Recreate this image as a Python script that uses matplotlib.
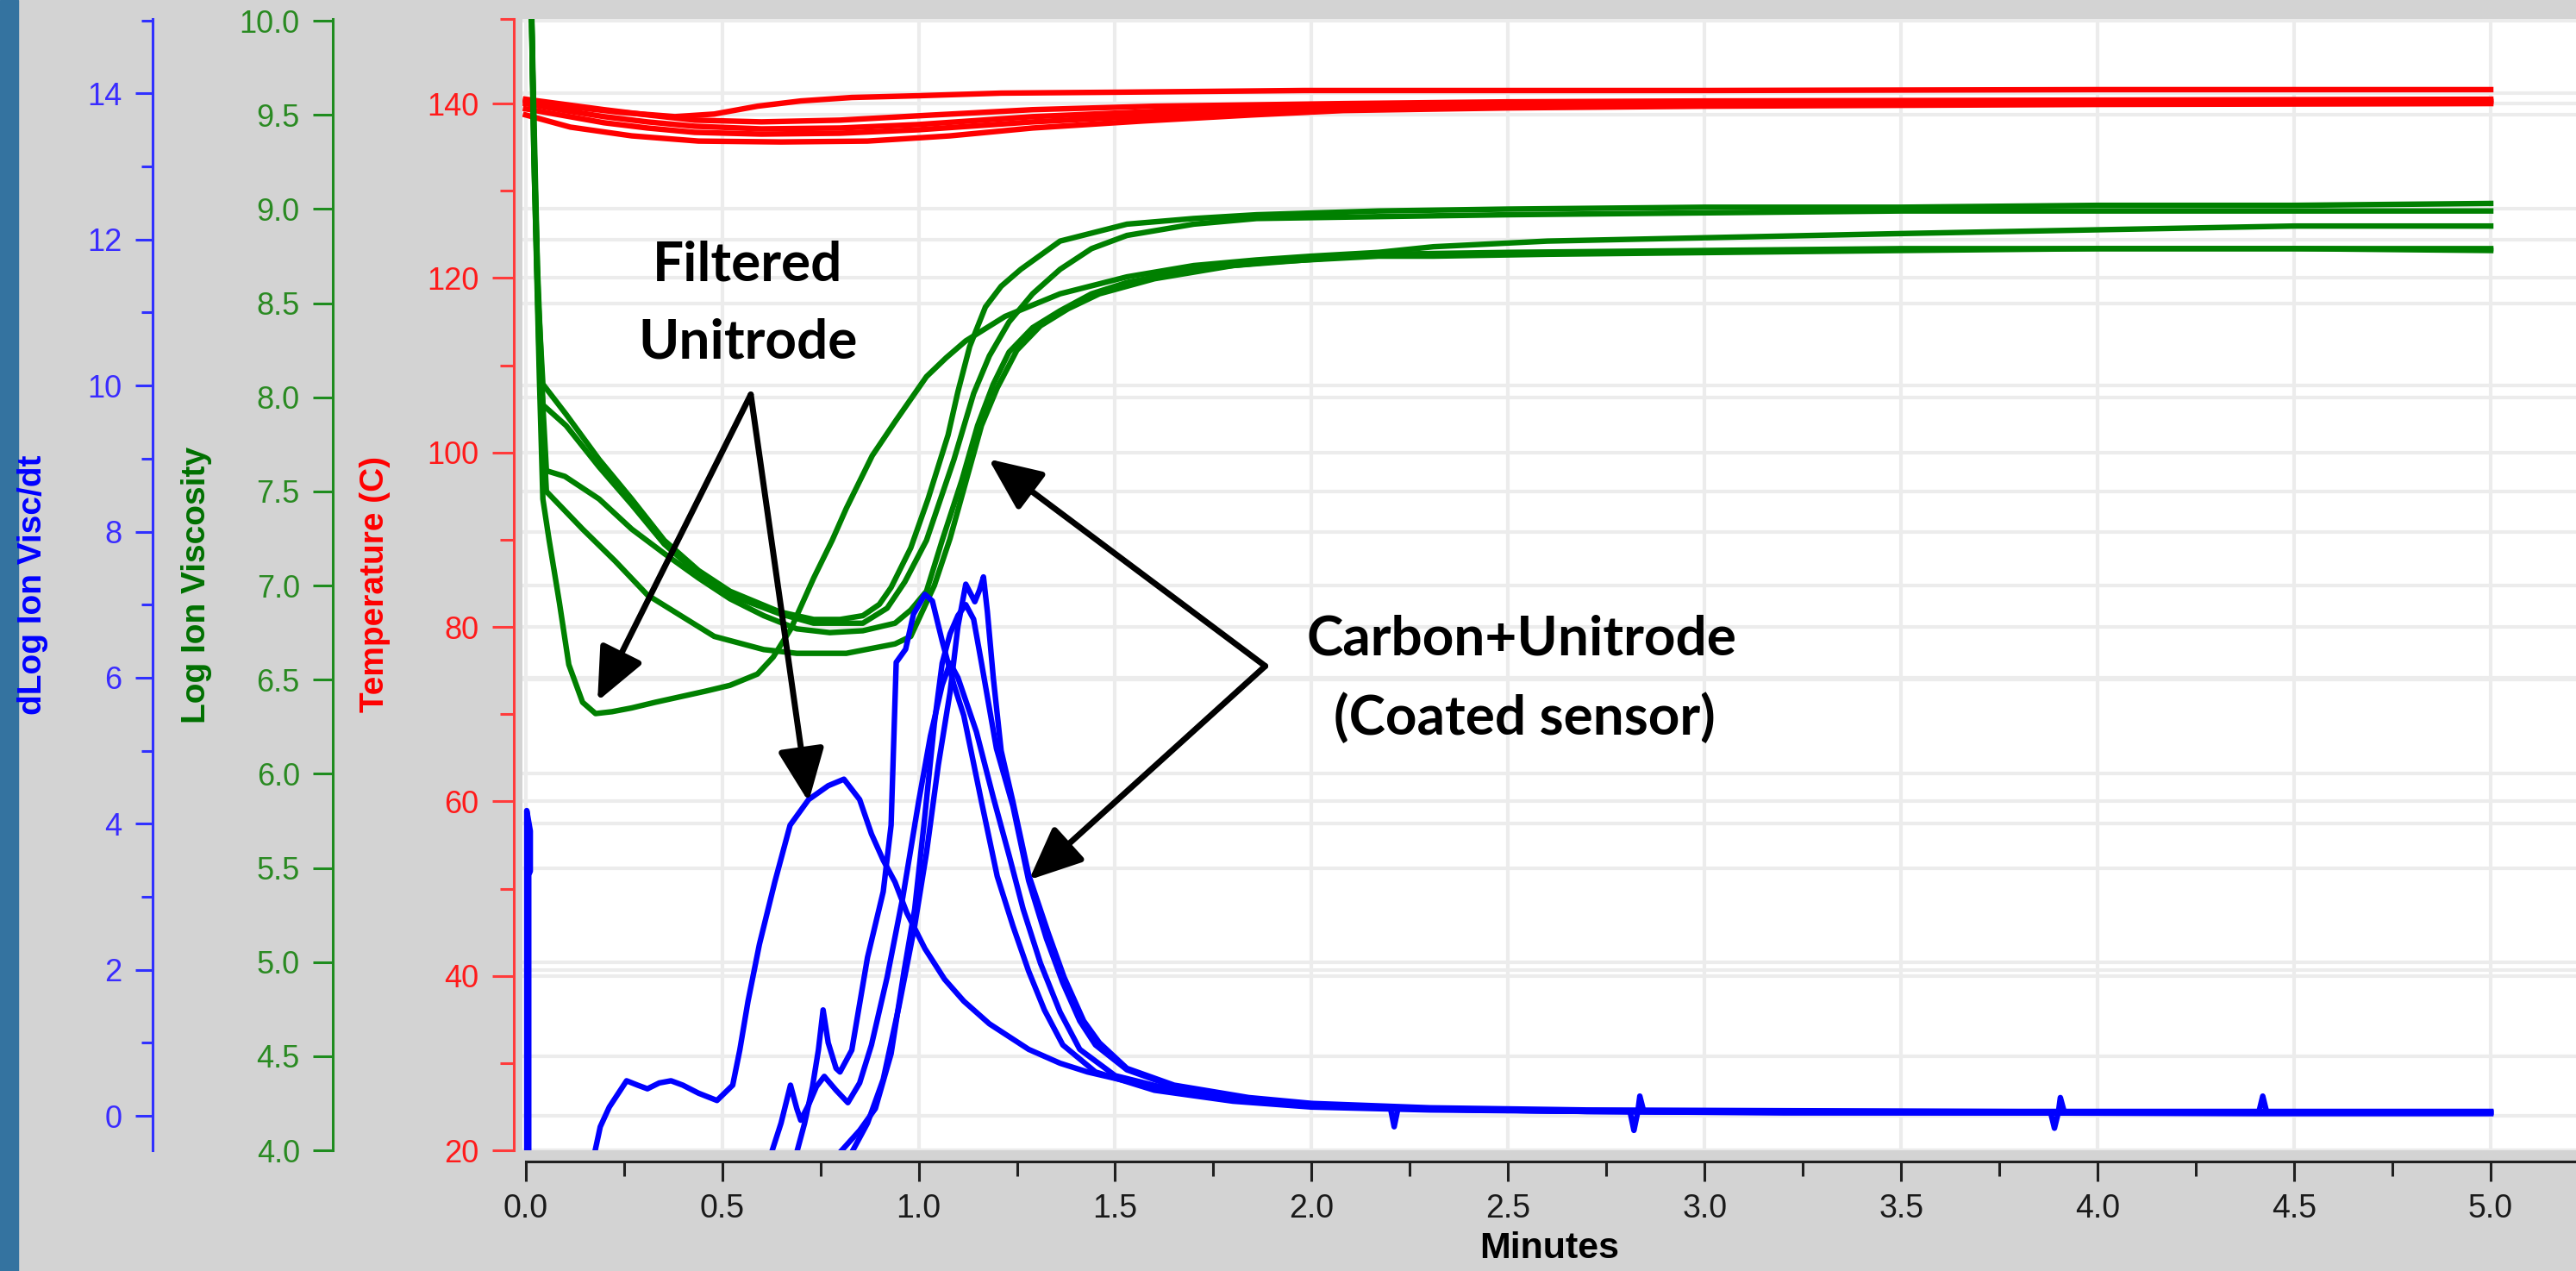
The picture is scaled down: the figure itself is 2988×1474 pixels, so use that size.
import matplotlib.pyplot as plt
from matplotlib.patches import Rectangle
from matplotlib.ticker import MultipleLocator, FixedLocator, FormatStrFormatter

plt.rcParams['font.family'] = ['Liberation Sans', 'DejaVu Sans']

# ---------------- Temperature (C), red ----------------
temp_t_1 = [0.0, 0.10, 0.24, 0.38, 0.48, 0.59, 0.70, 0.83, 1.0, 1.21, 1.5, 1.98, 2.5, 3.0, 4.0, 5.0]
temp_v_1 = [140.3, 139.7, 139.0, 138.5, 138.8, 139.7, 140.3, 140.7, 140.9, 141.2, 141.3, 141.5, 141.5, 141.5, 141.6, 141.6]
temp_t_2 = [0.0, 0.1, 0.2, 0.31, 0.43, 0.6, 0.8, 1.0, 1.29, 1.6, 2.08, 2.5, 3.0, 4.0, 5.0]
temp_v_2 = [140.5, 139.9, 139.3, 138.7, 138.1, 137.9, 138.1, 138.6, 139.3, 139.7, 140.0, 140.2, 140.3, 140.4, 140.5]
temp_v_3 = [140.0, 139.2, 138.5, 137.9, 137.4, 137.1, 137.2, 137.6, 138.5, 139.1, 139.6, 139.9, 140.1, 140.2, 140.3]
temp_v_4 = [139.4, 138.6, 137.8, 137.2, 136.7, 136.5, 136.6, 137.0, 137.9, 138.6, 139.3, 139.7, 139.9, 140.1, 140.2]
temp_t_5 = [0.0, 0.114, 0.27, 0.44, 0.65, 0.87, 1.08, 1.29, 1.57, 1.85, 2.08, 2.5, 3.0, 4.0, 5.0]
temp_v_5 = [138.7, 137.3, 136.3, 135.7, 135.6, 135.7, 136.3, 137.2, 138.0, 138.7, 139.2, 139.5, 139.7, 139.9, 140.0]

# ---------------- Log Ion Viscosity, green ----------------
visc_t_filt = [0.012, 0.02, 0.028, 0.035, 0.044, 0.06, 0.086, 0.11, 0.145, 0.178, 0.22, 0.27, 0.33, 0.395,
               0.46, 0.52, 0.59, 0.63, 0.675, 0.733, 0.78, 0.816, 0.882, 0.94, 1.02, 1.07, 1.12, 1.22, 1.36,
               1.53, 1.7, 1.86, 2.0, 2.17, 2.31, 2.6, 3.05, 3.5, 4.0, 4.5, 5.0]
visc_v_filt = [10.4, 9.4, 8.7, 8.11, 7.46, 7.24, 6.91, 6.58, 6.38, 6.32, 6.33, 6.35, 6.38, 6.41,
               6.44, 6.47, 6.53, 6.62, 6.77, 7.04, 7.24, 7.41, 7.69, 7.87, 8.11, 8.21, 8.30, 8.43, 8.55,
               8.64, 8.70, 8.73, 8.75, 8.77, 8.80, 8.83, 8.85, 8.87, 8.89, 8.91, 8.91]
visc_t_c1 = [0.012, 0.02, 0.03, 0.044, 0.103, 0.187, 0.27, 0.353, 0.44, 0.52, 0.647, 0.733, 0.80, 0.858,
             0.90, 0.93, 0.98, 1.024, 1.075, 1.10, 1.13, 1.17, 1.21, 1.26, 1.36, 1.53, 1.7, 1.86, 2.17,
             2.5, 3.0, 3.5, 4.0, 4.5, 5.0]
visc_v_c1 = [10.4, 9.5, 8.6, 8.07, 7.91, 7.67, 7.46, 7.24, 7.08, 6.97, 6.86, 6.82, 6.82, 6.84,
             6.90, 6.99, 7.2, 7.46, 7.80, 8.03, 8.27, 8.48, 8.59, 8.68, 8.83, 8.92, 8.95, 8.97, 8.99,
             9.0, 9.01, 9.01, 9.02, 9.02, 9.03]
visc_t_c2 = [0.012, 0.02, 0.03, 0.044, 0.103, 0.187, 0.27, 0.353, 0.44, 0.52, 0.647, 0.733, 0.858, 0.92,
             0.965, 1.02, 1.09, 1.14, 1.18, 1.23, 1.29, 1.36, 1.44, 1.53, 1.70, 1.86, 2.17, 2.5, 3.0,
             3.5, 4.0, 4.5, 5.0]
visc_v_c2 = [10.4, 9.6, 8.7, 7.96, 7.85, 7.63, 7.43, 7.22, 7.06, 6.95, 6.85, 6.80, 6.80, 6.88,
             7.02, 7.24, 7.67, 8.02, 8.22, 8.40, 8.55, 8.68, 8.79, 8.86, 8.92, 8.95, 8.96, 8.97, 8.98,
             8.99, 8.99, 8.99, 8.99]
visc_t_c3 = [0.012, 0.022, 0.035, 0.053, 0.10, 0.187, 0.27, 0.353, 0.44, 0.52, 0.606, 0.69, 0.774, 0.858,
             0.94, 0.98, 1.02, 1.06, 1.11, 1.15, 1.19, 1.23, 1.29, 1.36, 1.44, 1.53, 1.70, 1.9, 2.17,
             2.31, 2.6, 3.05, 3.5, 4.0, 4.5, 5.0]
visc_v_c3 = [10.4, 9.3, 8.3, 7.61, 7.58, 7.46, 7.30, 7.17, 7.04, 6.93, 6.84, 6.77, 6.75, 6.76,
             6.80, 6.87, 6.97, 7.24, 7.56, 7.85, 8.07, 8.24, 8.37, 8.46, 8.55, 8.61, 8.68, 8.72, 8.75,
             8.75, 8.76, 8.77, 8.78, 8.79, 8.79, 8.79]
visc_t_c4 = [0.012, 0.022, 0.035, 0.053, 0.145, 0.228, 0.31, 0.395, 0.48, 0.606, 0.69, 0.816, 0.94, 0.98,
             1.04, 1.08, 1.12, 1.16, 1.20, 1.25, 1.31, 1.38, 1.46, 1.6, 1.8, 2.17, 2.5, 3.0, 3.5, 4.0,
             4.5, 5.0]
visc_v_c4 = [10.4, 9.2, 8.2, 7.50, 7.30, 7.13, 6.95, 6.84, 6.73, 6.66, 6.64, 6.64, 6.69, 6.73,
             7.0, 7.25, 7.55, 7.85, 8.05, 8.25, 8.38, 8.47, 8.55, 8.63, 8.70, 8.76, 8.77, 8.78, 8.79, 8.79,
             8.79, 8.78]

# ---------------- dLog Ion Visc/dt, blue ----------------
slope_t_spike = [0.003, 0.003, 0.012, 0.012, 0.008, 0.008]
slope_v_spike = [-0.5, 4.18, 3.9, 3.35, 3.3, -0.5]
slope_t_filt = [0.176, 0.19, 0.213, 0.235, 0.257, 0.285, 0.31, 0.34, 0.37, 0.40, 0.44, 0.487, 0.527, 0.545,
                0.566, 0.595, 0.634, 0.673, 0.72, 0.77, 0.81, 0.85, 0.88, 0.91, 0.94, 0.97, 1.016, 1.066,
                1.115, 1.18, 1.28, 1.36, 1.43, 1.55, 1.7, 1.85, 2.0, 2.3, 2.7, 3.2, 3.8, 4.4, 5.0]
slope_v_filt = [-0.5, -0.15, 0.12, 0.3, 0.48, 0.42, 0.37, 0.45, 0.48, 0.42, 0.31, 0.21, 0.42, 0.9,
                1.57, 2.35, 3.2, 3.98, 4.33, 4.52, 4.61, 4.33, 3.86, 3.5, 3.2, 2.78, 2.29, 1.87,
                1.57, 1.26, 0.91, 0.72, 0.6, 0.45, 0.32, 0.22, 0.15, 0.09, 0.06, 0.05, 0.04, 0.04, 0.04]
slope_t_c1 = [0.69, 0.71, 0.73, 0.745, 0.757, 0.77, 0.79, 0.80, 0.83, 0.87, 0.91, 0.93, 0.943, 0.967, 0.987,
              1.016, 1.035, 1.06, 1.09, 1.115, 1.16, 1.2, 1.24, 1.28, 1.32, 1.367, 1.45, 1.6, 1.8, 2.0,
              2.3, 2.7, 3.2, 3.8, 4.4, 5.0]
slope_v_c1 = [-0.5, -0.1, 0.4, 0.9, 1.45, 1.0, 0.65, 0.6, 0.9, 2.17, 3.07, 3.98, 6.21, 6.39, 6.87,
              7.14, 7.05, 6.5, 5.9, 5.48, 4.3, 3.28, 2.6, 1.98, 1.45, 0.97, 0.6, 0.35, 0.2, 0.12,
              0.08, 0.06, 0.05, 0.05, 0.05, 0.05]
slope_t_c2 = [0.626, 0.65, 0.674, 0.69, 0.70, 0.72, 0.74, 0.76, 0.79, 0.82, 0.85, 0.88, 0.92, 0.96, 1.0,
              1.03, 1.06, 1.08, 1.10, 1.147, 1.19, 1.23, 1.266, 1.31, 1.36, 1.41, 1.5, 1.65, 1.8, 2.0,
              2.3, 2.7, 3.2, 3.8, 4.4, 5.0]
slope_v_c2 = [-0.5, -0.1, 0.42, 0.1, -0.06, 0.15, 0.4, 0.54, 0.35, 0.18, 0.45, 0.97, 1.9, 3.0, 4.3,
              5.2, 5.9, 6.2, 6.0, 5.26, 4.36, 3.57, 2.83, 2.09, 1.42, 0.91, 0.55, 0.35, 0.22, 0.14,
              0.09, 0.06, 0.04, 0.04, 0.03, 0.03]
slope_t_c3 = [0.80, 0.85, 0.89, 0.93, 0.963, 0.99, 1.013, 1.04, 1.06, 1.08, 1.10, 1.12, 1.14, 1.16, 1.198,
              1.24, 1.28, 1.325, 1.367, 1.41, 1.45, 1.53, 1.65, 1.84, 2.0, 2.2, 2.21, 2.22, 2.5,
              2.81, 2.82, 2.83, 2.835, 2.845, 3.2, 3.6, 3.88, 3.89, 3.90, 3.905, 3.915, 4.2, 4.41,
              4.42, 4.43, 4.7, 5.0]
slope_v_c3 = [-0.5, -0.2, 0.1, 0.85, 1.98, 2.83, 3.96, 5.37, 6.2, 6.6, 6.85, 7.0, 6.8, 6.2, 5.03,
              4.24, 3.22, 2.43, 1.82, 1.3, 0.97, 0.63, 0.4, 0.24, 0.16, 0.12, -0.15, 0.11, 0.08,
              0.06, -0.2, 0.06, 0.27, 0.06, 0.05, 0.05, 0.05, -0.17, 0.05, 0.25, 0.05, 0.05, 0.05,
              0.27, 0.05, 0.05, 0.05]
slope_t_c4 = [0.83, 0.87, 0.91, 0.95, 0.99, 1.02, 1.05, 1.08, 1.10, 1.12, 1.143, 1.155, 1.165, 1.175, 1.19,
              1.21, 1.24, 1.28, 1.33, 1.37, 1.42, 1.46, 1.53, 1.65, 1.84, 2.0, 2.3, 2.7, 3.2, 3.8, 4.4, 5.0]
slope_v_c4 = [-0.5, -0.1, 0.5, 1.5, 2.6, 3.6, 4.8, 5.8, 6.7, 7.28, 7.04, 7.2, 7.38, 6.9, 6.0,
              5.0, 4.3, 3.3, 2.5, 1.9, 1.3, 1.0, 0.65, 0.42, 0.25, 0.17, 0.11, 0.08, 0.07, 0.06, 0.06, 0.06]

W, H = 2988, 1474
LW = 4.6
BG = '#d3d3d3'
GRID = '#ececec'

fig = plt.figure(figsize=(W / 100, H / 100), dpi=100, facecolor=BG)
fig.add_artist(Rectangle((0, 0), 21 / W, 1, transform=fig.transFigure, color='#3473a0', zorder=0))

ax_left, ax_right, ax_top, ax_bot = 606, W, 22, 1334
ax = fig.add_axes([ax_left / W, (H - ax_bot) / H, (ax_right - ax_left) / W, (ax_bot - ax_top) / H])
ax.set_facecolor('white')
ax.set_xlim(-0.008, 5.217)
ax.set_ylim(0, 1)
ax.set_yticks([])
ax.xaxis.set_major_locator(MultipleLocator(0.5))
ax.xaxis.set_minor_locator(MultipleLocator(0.25))
ax.xaxis.set_major_formatter(FormatStrFormatter('%.1f'))
ax.grid(axis='x', which='major', color=GRID, lw=3)
ax.set_axisbelow(True)
for s in ['top', 'right', 'left']:
    ax.spines[s].set_visible(False)
ax.spines['bottom'].set_position(('outward', 9.5))
ax.spines['bottom'].set_bounds(0, 5.217)
ax.spines['bottom'].set_linewidth(2.2)
ax.spines['bottom'].set_color('#202020')
ax.tick_params(axis='x', which='major', length=16.5, width=2.2, pad=10, labelsize=27,
               labelcolor='#1a1a1a', color='#202020')
ax.tick_params(axis='x', which='minor', length=12, width=2.2, color='#202020')
ax.set_xlabel('Minutes', fontsize=31, fontweight='bold', labelpad=6)

red_lim = (20, 149.7)
green_lim = (4, 10.01)
blue_lim = (-0.472, 15.02)

# grid-only twins so that every grid sits under every curve
for lim, step in [(red_lim, 20), (green_lim, 0.5), (blue_lim, 2)]:
    g = ax.twinx()
    g.set_ylim(*lim)
    g.yaxis.set_major_locator(MultipleLocator(step))
    g.grid(axis='y', color=GRID, lw=3)
    g.tick_params(left=False, right=False, labelleft=False, labelright=False)
    for s in g.spines.values():
        s.set_visible(False)


def side_axis(lim, x_px, color, labelcolor, major, minor, length, fmt):
    a = ax.twinx()
    a.set_ylim(*lim)
    a.yaxis.set_ticks_position('left')
    a.spines['left'].set_position(('axes', (x_px - ax_left) / (ax_right - ax_left)))
    a.spines['left'].set_visible(True)
    a.spines['left'].set_color(color)
    a.spines['left'].set_linewidth(2.2)
    for s in ['right', 'top', 'bottom']:
        a.spines[s].set_visible(False)
    a.yaxis.set_major_locator(MultipleLocator(major))
    if minor is not None:
        a.yaxis.set_minor_locator(minor)
    a.yaxis.set_major_formatter(FormatStrFormatter(fmt))
    a.tick_params(axis='y', which='major', length=length, width=2.2, color=color,
                  labelcolor=labelcolor, labelsize=26, pad=11)
    a.tick_params(axis='y', which='minor', length=length * 0.65, width=2.2, color=color)
    return a


ax_red = side_axis(red_lim, 596, '#ff3b3b', '#ff1a1a', 20,
                   FixedLocator([30, 50, 70, 90, 110, 130, 149.7]), 18, '%d')
ax_green = side_axis(green_lim, 386, '#1f8c1f', '#2a8a22', 0.5, None, 16.5, '%.1f')
ax_blue = side_axis(blue_lim, 177, '#3030ff', '#3a2cff', 2, MultipleLocator(1), 14.4, '%d')

for t, v in [(temp_t_1, temp_v_1), (temp_t_2, temp_v_2), (temp_t_2, temp_v_3),
             (temp_t_2, temp_v_4), (temp_t_5, temp_v_5)]:
    ax_red.plot(t, v, color='#ff0000', lw=LW)

for t, v in [(visc_t_filt, visc_v_filt), (visc_t_c1, visc_v_c1), (visc_t_c2, visc_v_c2),
             (visc_t_c3, visc_v_c3), (visc_t_c4, visc_v_c4)]:
    ax_green.plot(t, v, color='#008000', lw=LW)

for t, v in [(slope_t_spike, slope_v_spike), (slope_t_filt, slope_v_filt), (slope_t_c1, slope_v_c1),
             (slope_t_c2, slope_v_c2), (slope_t_c3, slope_v_c3), (slope_t_c4, slope_v_c4)]:
    ax_blue.plot(t, v, color='#0000ff', lw=LW)

label_font = dict(fontsize=28, fontweight='bold', rotation=90, ha='center', va='center')
ax_blue.text((38 - ax_left) / (ax_right - ax_left), 0.5, 'dLog Ion Visc/dt', color='#0000ff',
             transform=ax_blue.transAxes, **label_font)
ax_blue.text((228 - ax_left) / (ax_right - ax_left), 0.5, 'Log Ion Viscosity', color='#007000',
             transform=ax_blue.transAxes, **label_font)
ax_blue.text((435 - ax_left) / (ax_right - ax_left), 0.5, 'Temperature (C)', color='#ff0000',
             transform=ax_blue.transAxes, **label_font)

# annotations: x in minutes, y as a fraction of the plot height
tr = ax_blue.get_xaxis_transform()
note_font = dict(family='Lato', fontsize=46, fontweight='bold', ha='center', va='baseline',
                 color='black', transform=tr)
ax_blue.text(0.564, 0.769, 'Filtered', **note_font)
ax_blue.text(0.566, 0.700, 'Unitrode', **note_font)
ax_blue.text(2.534, 0.438, 'Carbon+Unitrode', **note_font)
ax_blue.text(2.542, 0.367, '(Coated sensor)', **note_font)

arrow = dict(arrowstyle='-|>,head_length=1.25,head_width=0.55', mutation_scale=30,
             lw=5, color='black', shrinkA=0, shrinkB=0)
for tail, tip in [((0.573, 0.668), (0.183, 0.397)), ((0.573, 0.668), (0.72, 0.308)),
                  ((1.882, 0.428), (1.178, 0.611)), ((1.882, 0.428), (1.281, 0.239))]:
    ax_blue.annotate('', xy=tip, xytext=tail, xycoords=tr, textcoords=tr, arrowprops=arrow)

fig.savefig('out.png', dpi=100, facecolor=BG)
